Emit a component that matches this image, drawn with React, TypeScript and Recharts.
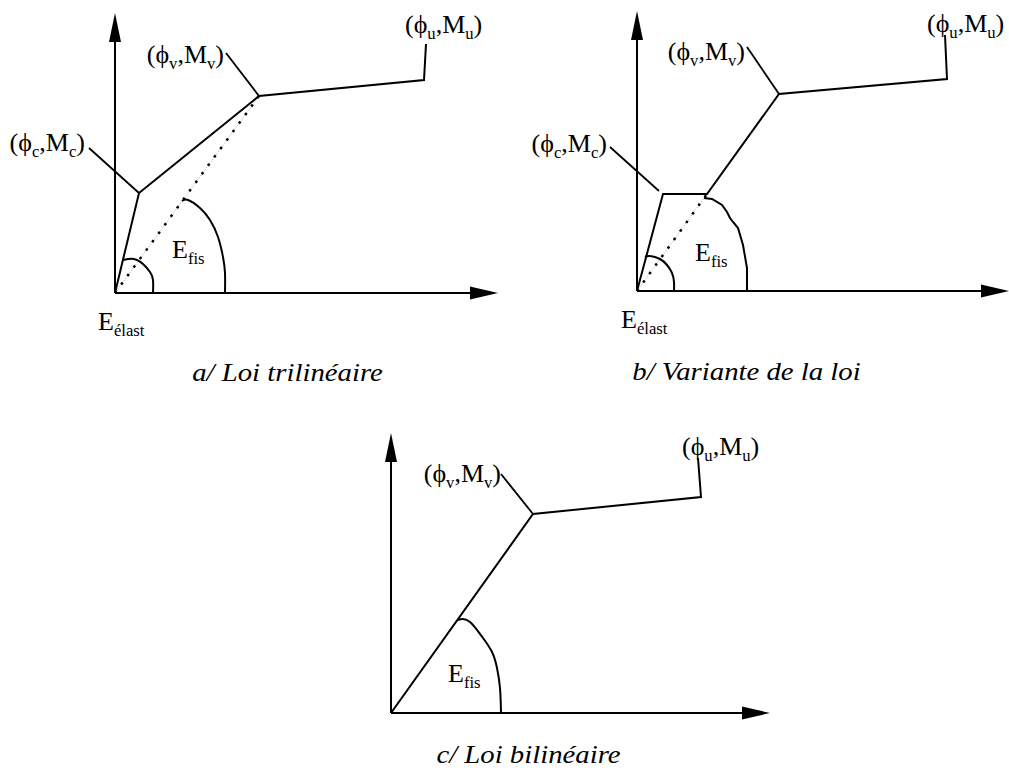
import { ComposedChart, Line, Scatter, XAxis, YAxis } from 'recharts'

// Units: 1 unit = 10 px, origin of each panel at the corner of its axes.
type Pt = { x: number; y: number }
type Lbl = { x: number; y: number; text: string; anchor: 'start' | 'middle' | 'end' }
type Arrow = { x: number; y: number; dir: 'up' | 'right' }

// a/ Loi trilinéaire
const aCurve: Pt[] = [{ x: 0, y: 0 }, { x: 2.4, y: 10.0 }, { x: 14.4, y: 19.7 }, { x: 30.9, y: 21.3 }, { x: 31.1, y: 24.9 }]
const aLeaderC: Pt[] = [{ x: 2.4, y: 10.0 }, { x: -2.6, y: 14.5 }]
const aLeaderV: Pt[] = [{ x: 14.4, y: 19.7 }, { x: 11.1, y: 24.0 }]
const aSecant: Pt[] = [{ x: 0, y: 0 }, { x: 14.4, y: 19.7 }]
const aArcElast: Pt[] = [{ x: 0.8, y: 3.3 }, { x: 1.9, y: 3.4 }, { x: 2.8, y: 2.9 }, { x: 3.5, y: 2.1 }, { x: 3.8, y: 1.3 }, { x: 3.8, y: 0 }]
const aArcFis: Pt[] = [{ x: 6.7, y: 9.2 }, { x: 7.3, y: 9.3 }, { x: 8.5, y: 8.5 }, { x: 9.5, y: 7.3 }, { x: 10.3, y: 5.6 }, { x: 10.8, y: 3.6 }, { x: 11.0, y: 2.0 }, { x: 11.0, y: 0 }]
const aAxisX: Pt[] = [{ x: 0, y: 0 }, { x: 36.5, y: 0 }]
const aAxisY: Pt[] = [{ x: 0, y: 0 }, { x: 0, y: 26.2 }]
const aArrows: Arrow[] = [{ x: 38.3, y: 0, dir: 'right' }, { x: 0, y: 28.0, dir: 'up' }]
const aLabels: Lbl[] = [
  { x: -3.0, y: 14.2, text: '(ϕ_{c},M_{c})', anchor: 'end' },
  { x: 10.9, y: 23.0, text: '(ϕ_{v},M_{v})', anchor: 'end' },
  { x: 29.0, y: 26.0, text: '(ϕ_{u},M_{u})', anchor: 'start' },
  { x: 5.7, y: 3.5, text: 'E_{fis}', anchor: 'start' },
  { x: -1.7, y: -3.7, text: 'E_{élast}', anchor: 'start' },
]
const aCaption: Lbl[] = [{ x: 17.25, y: -8.8, text: 'a/ Loi trilinéaire', anchor: 'middle' }]

// b/ Variante de la loi
const bCurve: Pt[] = [{ x: 0, y: 0 }, { x: 2.6, y: 9.7 }, { x: 7.0, y: 9.7 }, { x: 14.2, y: 19.7 }, { x: 31.0, y: 21.2 }, { x: 30.8, y: 25.6 }]
const bLeaderC: Pt[] = [{ x: 2.2, y: 10.0 }, { x: -2.7, y: 14.4 }]
const bLeaderV: Pt[] = [{ x: 14.2, y: 19.7 }, { x: 11.0, y: 24.4 }]
const bSecant: Pt[] = [{ x: 0, y: 0 }, { x: 7.0, y: 9.7 }]
const bArcElast: Pt[] = [{ x: 0.8, y: 3.4 }, { x: 1.3, y: 3.5 }, { x: 2.3, y: 3.2 }, { x: 3.0, y: 2.6 }, { x: 3.5, y: 1.8 }, { x: 3.7, y: 0.9 }, { x: 3.7, y: 0 }]
const bArcFis: Pt[] = [{ x: 6.7, y: 9.3 }, { x: 7.5, y: 9.2 }, { x: 8.5, y: 8.6 }, { x: 9.0, y: 7.9 }, { x: 9.3, y: 7.3 }, { x: 9.6, y: 6.9 }, { x: 10.1, y: 6.3 }, { x: 10.6, y: 4.6 }, { x: 11.0, y: 2.3 }, { x: 11.0, y: 0 }]
const bAxisX: Pt[] = [{ x: 0, y: 0 }, { x: 35.4, y: 0 }]
const bAxisY: Pt[] = [{ x: 0, y: 0 }, { x: 0, y: 26.2 }]
const bArrows: Arrow[] = [{ x: 37.2, y: 0, dir: 'right' }, { x: 0, y: 28.0, dir: 'up' }]
const bLabels: Lbl[] = [
  { x: -3.0, y: 13.9, text: '(ϕ_{c},M_{c})', anchor: 'end' },
  { x: 10.8, y: 23.1, text: '(ϕ_{v},M_{v})', anchor: 'end' },
  { x: 29.0, y: 25.9, text: '(ϕ_{u},M_{u})', anchor: 'start' },
  { x: 5.8, y: 3.0, text: 'E_{fis}', anchor: 'start' },
  { x: -1.6, y: -3.7, text: 'E_{élast}', anchor: 'start' },
]
const bCaption: Lbl[] = [{ x: 10.95, y: -8.9, text: 'b/ Variante de la loi', anchor: 'middle' }]

// c/ Loi bilinéaire
const cCurve: Pt[] = [{ x: 0, y: 0 }, { x: 14.2, y: 19.9 }, { x: 31.0, y: 21.6 }, { x: 30.7, y: 25.5 }]
const cLeaderV: Pt[] = [{ x: 14.2, y: 19.9 }, { x: 11.0, y: 23.9 }]
const cArcFis: Pt[] = [{ x: 6.7, y: 9.3 }, { x: 7.2, y: 9.4 }, { x: 7.9, y: 9.1 }, { x: 8.6, y: 8.3 }, { x: 9.2, y: 7.5 }, { x: 10.1, y: 6.1 }, { x: 10.6, y: 4.5 }, { x: 10.9, y: 2.5 }, { x: 11.0, y: 0 }]
const cAxisX: Pt[] = [{ x: 0, y: 0 }, { x: 36.1, y: 0 }]
const cAxisY: Pt[] = [{ x: 0, y: 0 }, { x: 0, y: 26.2 }]
const cArrows: Arrow[] = [{ x: 37.9, y: 0, dir: 'right' }, { x: 0, y: 28.0, dir: 'up' }]
const cLabels: Lbl[] = [
  { x: 11.0, y: 23.1, text: '(ϕ_{v},M_{v})', anchor: 'end' },
  { x: 29.1, y: 25.8, text: '(ϕ_{u},M_{u})', anchor: 'start' },
  { x: 5.7, y: 3.1, text: 'E_{fis}', anchor: 'start' },
]
const cCaption: Lbl[] = [{ x: 13.75, y: -5.0, text: 'c/ Loi bilinéaire', anchor: 'middle' }]

const FONT = '"Liberation Serif", "Times New Roman", "DejaVu Serif", serif'

// the scanned figure is a bit wider than tall, so the text is stretched sideways
function RichText({ x, y, text, anchor, italic, sx }: { x: number; y: number; text: string; anchor: string; italic?: boolean; sx: number }) {
  const parts = text.split(/(_\{[^}]*\})/).filter(Boolean)
  let inSub = false
  return (
    <text
      x={0}
      y={0}
      transform={`translate(${x},${y}) scale(${sx},1)`}
      textAnchor={anchor as any}
      fontFamily={FONT}
      fontSize={25}
      fontStyle={italic ? 'italic' : 'normal'}
      fill="#000"
    >
      {parts.map((p, i) => {
        if (p.startsWith('_{')) {
          const dy = inSub ? 0 : 6
          inSub = true
          return <tspan key={i} fontSize={16} dy={dy}>{p.slice(2, -1)}</tspan>
        }
        const dy = inSub ? -6 : 0
        inSub = false
        return <tspan key={i} dy={dy}>{p}</tspan>
      })}
    </text>
  )
}

const labelShape = (props: any) => <RichText x={props.cx} y={props.cy} text={props.payload.text} anchor={props.payload.anchor} sx={1.04} />
const captionShape = (props: any) => <RichText x={props.cx} y={props.cy} text={props.payload.text} anchor={props.payload.anchor} italic sx={1.15} />

const arrowShape = (props: any) => {
  const { cx, cy, payload } = props
  const d = payload.dir === 'up'
    ? `M${cx},${cy} L${cx - 6},${cy + 29} L${cx + 6},${cy + 29} Z`
    : `M${cx},${cy} L${cx - 28},${cy - 6.5} L${cx - 28},${cy + 6.5} Z`
  return <path d={d} fill="#000" />
}

interface PanelProps {
  left: number
  top: number
  width: number
  height: number
  xDomain: [number, number]
  yDomain: [number, number]
  axisX: Pt[]
  axisY: Pt[]
  arrows: Arrow[]
  curve: Pt[]
  leaders: Pt[][]
  secant?: Pt[]
  arcs: { data: Pt[]; smooth: boolean }[]
  labels: Lbl[]
  caption: Lbl[]
}

function Panel(p: PanelProps) {
  const solid = (data: Pt[], key: string, w: number, type: any = 'linear') => (
    <Line
      key={key}
      data={data}
      dataKey="y"
      type={type}
      stroke="#000"
      strokeWidth={w}
      dot={false}
      activeDot={false}
      isAnimationActive={false}
      strokeLinejoin="miter"
    />
  )
  return (
    <div style={{ position: 'absolute', left: p.left, top: p.top }}>
      <ComposedChart width={p.width} height={p.height} margin={{ top: 0, right: 0, bottom: 0, left: 0 }}>
        <XAxis type="number" dataKey="x" domain={p.xDomain} hide />
        <YAxis type="number" dataKey="y" domain={p.yDomain} hide />
        {solid(p.axisX, 'ax', 2)}
        {solid(p.axisY, 'ay', 2)}
        {p.secant && (
          <Line data={p.secant} dataKey="y" stroke="#aaa" strokeWidth={1} strokeDasharray="1 1.5" dot={false} activeDot={false} isAnimationActive={false} />
        )}
        {p.secant && (
          <Line data={p.secant} dataKey="y" stroke="#000" strokeWidth={2.5} strokeDasharray="2.5 8" dot={false} activeDot={false} isAnimationActive={false} />
        )}
        {p.arcs.map((a, i) => solid(a.data, 'arc' + i, 2, a.smooth ? 'natural' : 'linear'))}
        {p.leaders.map((l, i) => solid(l, 'ld' + i, 1.8))}
        {solid(p.curve, 'curve', 2)}
        <Scatter data={p.arrows} dataKey="y" shape={arrowShape} isAnimationActive={false} />
        <Scatter data={p.labels} dataKey="y" shape={labelShape} isAnimationActive={false} />
        <Scatter data={p.caption} dataKey="y" shape={captionShape} isAnimationActive={false} />
      </ComposedChart>
    </div>
  )
}

export default function App() {
  return (
    <div style={{ position: 'absolute', left: 0, top: 0, width: 1009, height: 773, background: '#fff', overflow: 'hidden' }}>
      <Panel
        left={0} top={0} width={500} height={400}
        xDomain={[-11.5, 38.5]} yDomain={[-10.7, 29.3]}
        axisX={aAxisX} axisY={aAxisY} arrows={aArrows}
        curve={aCurve} leaders={[aLeaderC, aLeaderV]} secant={aSecant}
        arcs={[{ data: aArcElast, smooth: true }, { data: aArcFis, smooth: true }]}
        labels={aLabels} caption={aCaption}
      />
      <Panel
        left={500} top={0} width={509} height={400}
        xDomain={[-13.7, 37.2]} yDomain={[-10.9, 29.1]}
        axisX={bAxisX} axisY={bAxisY} arrows={bArrows}
        curve={bCurve} leaders={[bLeaderC, bLeaderV]} secant={bSecant}
        arcs={[{ data: bArcElast, smooth: true }, { data: bArcFis, smooth: false }]}
        labels={bLabels} caption={bCaption}
      />
      <Panel
        left={370} top={420} width={420} height={353}
        xDomain={[-2.1, 39.9]} yDomain={[-6.0, 29.3]}
        axisX={cAxisX} axisY={cAxisY} arrows={cArrows}
        curve={cCurve} leaders={[cLeaderV]}
        arcs={[{ data: cArcFis, smooth: true }]}
        labels={cLabels} caption={cCaption}
      />
    </div>
  )
}
